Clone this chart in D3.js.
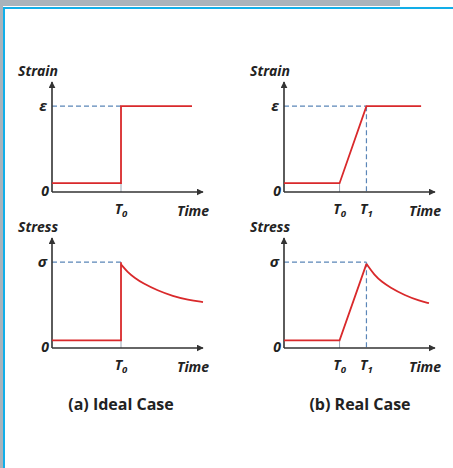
<!DOCTYPE html>
<html>
<head>
<meta charset="utf-8">
<script src="https://d3js.org/d3.v7.min.js"></script>
<style>
body { margin: 0; background: #fff; }
svg { display: block; }
.lbl { font-family: "Open Sans", Lato, sans-serif; font-weight: bold; font-style: italic; fill: #222; }
.cap { font-family: "Open Sans", Lato, sans-serif; font-weight: bold; fill: #222; }
</style>
</head>
<body>
<svg id="chart" width="453" height="468"></svg>
<script>
// data, in (time 0..10, level 0..1) units
var lowLevel = 0.08;
var topLevel = 0.78;
var strainIdeal = [[0, 0.08], [4.57, 0.08], [4.57, 0.78], [9.27, 0.78]];
var strainReal = [[0, 0.08], [3.68, 0.08], [5.46, 0.78], [9.08, 0.78]];
var stressIdealRise = [[0, 0.07], [4.57, 0.07], [4.57, 0.78]];
var stressIdealDecay = [[4.57, 0.76], [5.0, 0.69], [5.5, 0.635], [6.0, 0.59], [7.0, 0.522], [8.0, 0.472], [9.0, 0.438], [10, 0.418]];
var stressRealRise = [[0, 0.07], [3.68, 0.07], [5.46, 0.765]];
var stressRealDecay = [[5.46, 0.765], [6.0, 0.66], [6.5, 0.6], [7.0, 0.553], [8.0, 0.478], [9.0, 0.428], [9.6, 0.408]];
var captions = ["(a) Ideal Case", "(b) Real Case"];

var svg = d3.select("#chart");

// page frame
svg.append("rect").attr("x", 0).attr("y", 0).attr("width", 400).attr("height", 6).attr("fill", "#a9b3bb");
svg.append("rect").attr("x", 0).attr("y", 0).attr("width", 3).attr("height", 468).attr("fill", "#a9b3bb");
svg.append("rect").attr("x", 3).attr("y", 7).attr("width", 450).attr("height", 2).attr("fill", "#12aee8");
svg.append("rect").attr("x", 3).attr("y", 7).attr("width", 2).attr("height", 461).attr("fill", "#12aee8");

svg.append("defs").append("marker")
  .attr("id", "arr")
  .attr("viewBox", "0 0 10 10")
  .attr("refX", 9).attr("refY", 5)
  .attr("markerWidth", 7).attr("markerHeight", 7)
  .attr("markerUnits", "userSpaceOnUse")
  .attr("orient", "auto")
  .append("path").attr("d", "M0,0L10,5L0,10z").attr("fill", "#333");

function tLabel(g, x, y, sub) {
  var t = g.append("text").attr("class", "lbl").attr("x", x).attr("y", y)
    .attr("text-anchor", "middle").attr("font-size", 14);
  t.append("tspan").text("T");
  t.append("tspan").attr("font-size", 9.5).attr("dy", 3).text(sub);
}

function panel(ox, oy, title, sym, rise, decay, times, peakT) {
  var x = d3.scaleLinear().domain([0, 10]).range([ox, ox + 151]);
  var y = d3.scaleLinear().domain([0, 1]).range([oy, oy - 110]);
  var g = svg.append("g");

  // dashed guide lines
  g.append("line").attr("x1", x(0)).attr("x2", x(peakT))
    .attr("y1", y(topLevel)).attr("y2", y(topLevel))
    .attr("stroke", "#5b86b8").attr("stroke-width", 1.2).attr("stroke-dasharray", "5,3");
  if (times.length > 1) {
    g.append("line").attr("x1", x(peakT)).attr("x2", x(peakT))
      .attr("y1", y(topLevel)).attr("y2", y(0))
      .attr("stroke", "#5b86b8").attr("stroke-width", 1.2).attr("stroke-dasharray", "5,3");
  }
  // small drop line at T0
  g.append("line").attr("x1", x(times[0])).attr("x2", x(times[0]))
    .attr("y1", y(lowLevel)).attr("y2", y(0))
    .attr("stroke", "#9aa6b4").attr("stroke-width", 1);

  // axes
  g.append("line").attr("x1", x(0)).attr("y1", y(0)).attr("x2", x(0)).attr("y2", y(1))
    .attr("stroke", "#333").attr("stroke-width", 1.6).attr("marker-end", "url(#arr)");
  g.append("line").attr("x1", x(0)).attr("y1", y(0)).attr("x2", x(10)).attr("y2", y(0))
    .attr("stroke", "#333").attr("stroke-width", 1.6).attr("marker-end", "url(#arr)");

  // red response
  var lin = d3.line().x(function(d) { return x(d[0]); }).y(function(d) { return y(d[1]); });
  g.append("path").attr("d", lin(rise)).attr("fill", "none")
    .attr("stroke", "#d9292b").attr("stroke-width", 1.8);
  if (decay) {
    var crv = d3.line().curve(d3.curveBasis)
      .x(function(d) { return x(d[0]); }).y(function(d) { return y(d[1]); });
    g.append("path").attr("d", crv(decay)).attr("fill", "none")
      .attr("stroke", "#d9292b").attr("stroke-width", 1.8);
  }

  // labels
  g.append("text").attr("class", "lbl").attr("x", ox - 34).attr("y", y(1) - 6)
    .attr("font-size", 14).text(title);
  g.append("text").attr("class", "lbl").attr("x", ox - 5).attr("y", y(topLevel) + 5)
    .attr("text-anchor", "end").attr("font-size", 15).text(sym);
  g.append("text").attr("class", "lbl").attr("x", ox - 3).attr("y", y(0) + 4)
    .attr("text-anchor", "end").attr("font-size", 14).text("0");
  times.forEach(function(t, i) { tLabel(g, x(t), oy + 22, String(i)); });
  g.append("text").attr("class", "lbl").attr("x", x(10) - 10).attr("y", oy + 24)
    .attr("text-anchor", "middle").attr("font-size", 14).text("Time");
}

panel(52, 192, "Strain", "\u03b5", strainIdeal, null, [4.57], 4.57);
panel(284, 192, "Strain", "\u03b5", strainReal, null, [3.68, 5.46], 5.46);
panel(52, 348, "Stress", "\u03c3", stressIdealRise, stressIdealDecay, [4.57], 4.57);
panel(284, 348, "Stress", "\u03c3", stressRealRise, stressRealDecay, [3.68, 5.46], 5.46);

svg.selectAll(".cap").data(captions).enter().append("text")
  .attr("class", "cap")
  .attr("x", function(d, i) { return i === 0 ? 121 : 360; })
  .attr("y", 410)
  .attr("text-anchor", "middle")
  .attr("font-size", 16)
  .text(function(d) { return d; });
</script>
</body>
</html>
